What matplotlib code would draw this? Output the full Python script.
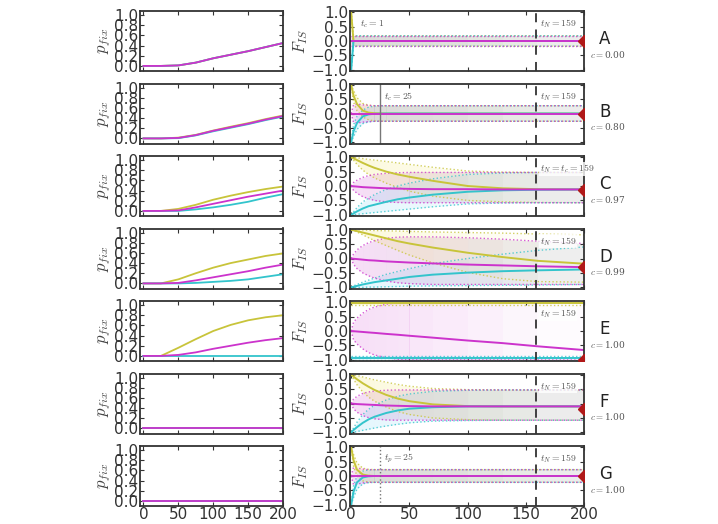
import numpy as np
import matplotlib
matplotlib.use('Agg')
import matplotlib.pyplot as plt

plt.rcParams['mathtext.fontset'] = 'cm'
plt.rcParams['xtick.direction'] = 'in'
plt.rcParams['ytick.direction'] = 'in'
plt.rcParams['xtick.top'] = True
plt.rcParams['ytick.right'] = True
plt.rcParams['axes.edgecolor'] = '#333333'
plt.rcParams['axes.linewidth'] = 1.3
plt.rcParams['xtick.color'] = '#333333'
plt.rcParams['ytick.color'] = '#333333'

YEL = '#c8c43a'
MAG = '#cc33cc'
CYA = '#33c4cc'

letters = ['A', 'B', 'C', 'D', 'E', 'F', 'G']
c_vals = ['0.00', '0.80', '0.97', '0.99', '1.00', '1.00', '1.00']

# left column: fixation probability
t_fix = [0, 25, 50, 75, 100, 125, 150, 175, 200]
fix_a_yel = [0, 0, 0.01, 0.065, 0.15, 0.22, 0.29, 0.37, 0.45]
fix_a_mag = [0, 0, 0.01, 0.065, 0.15, 0.22, 0.29, 0.37, 0.45]
fix_a_cya = [0, 0, 0.01, 0.065, 0.15, 0.22, 0.29, 0.37, 0.45]
fix_b_yel = [0, 0, 0.015, 0.07, 0.155, 0.23, 0.30, 0.38, 0.45]
fix_b_mag = [0, 0, 0.01, 0.065, 0.15, 0.22, 0.29, 0.37, 0.44]
fix_b_cya = [0, 0, 0.005, 0.06, 0.14, 0.21, 0.28, 0.36, 0.43]
fix_c_yel = [0, 0, 0.04, 0.12, 0.22, 0.30, 0.37, 0.43, 0.48]
fix_c_mag = [0, 0, 0.01, 0.07, 0.14, 0.21, 0.28, 0.34, 0.40]
fix_c_cya = [0, 0, 0, 0.03, 0.07, 0.12, 0.18, 0.26, 0.33]
fix_d_yel = [0, 0, 0.08, 0.20, 0.31, 0.40, 0.47, 0.54, 0.59]
fix_d_mag = [0, 0, 0.01, 0.06, 0.12, 0.18, 0.24, 0.31, 0.37]
fix_d_cya = [0, 0, 0, 0.01, 0.03, 0.05, 0.08, 0.13, 0.18]
fix_e_yel = [0, 0, 0.16, 0.33, 0.49, 0.61, 0.70, 0.76, 0.80]
fix_e_mag = [0, 0, 0.02, 0.07, 0.14, 0.20, 0.26, 0.31, 0.35]
fix_e_cya = [0, 0, 0, 0, 0, 0, 0, 0, 0]
fix_zero = [0, 0, 0, 0, 0, 0, 0, 0, 0]

# right column: F_IS trajectories and their spread
t_fis = [0, 2, 5, 10, 15, 20, 30, 40, 50, 70, 100, 130, 160, 200]

a_yel = [1, 0, 0, 0, 0, 0, 0, 0, 0, 0, 0, 0, 0, 0]
a_cya = [-1, 0, 0, 0, 0, 0, 0, 0, 0, 0, 0, 0, 0, 0]
a_mag = [0, 0, 0, 0, 0, 0, 0, 0, 0, 0, 0, 0, 0, 0]
a_hi = [0.18, 0.18, 0.18, 0.18, 0.18, 0.18, 0.18, 0.18, 0.18, 0.18, 0.18, 0.18, 0.18, 0.18]
a_lo = [-0.18, -0.18, -0.18, -0.18, -0.18, -0.18, -0.18, -0.18, -0.18, -0.18, -0.18, -0.18, -0.18, -0.18]
a_yhi = [1, 0.18, 0.18, 0.18, 0.18, 0.18, 0.18, 0.18, 0.18, 0.18, 0.18, 0.18, 0.18, 0.18]
a_ylo = [1, -0.18, -0.18, -0.18, -0.18, -0.18, -0.18, -0.18, -0.18, -0.18, -0.18, -0.18, -0.18, -0.18]
a_chi = [-1, 0.18, 0.18, 0.18, 0.18, 0.18, 0.18, 0.18, 0.18, 0.18, 0.18, 0.18, 0.18, 0.18]
a_clo = [-1, -0.18, -0.18, -0.18, -0.18, -0.18, -0.18, -0.18, -0.18, -0.18, -0.18, -0.18, -0.18, -0.18]

b_yel = [1, 0.62, 0.33, 0.10, 0.03, 0.01, 0, 0, 0, 0, 0, 0, 0, 0]
b_cya = [-1, -0.62, -0.33, -0.10, -0.03, -0.01, 0, 0, 0, 0, 0, 0, 0, 0]
b_mag = [0, 0, 0, 0, 0, 0, 0, 0, 0, 0, 0, 0, 0, 0]
b_hi = [0, 0.30, 0.33, 0.30, 0.28, 0.27, 0.27, 0.27, 0.27, 0.27, 0.27, 0.27, 0.27, 0.27]
b_lo = [0, -0.30, -0.33, -0.30, -0.28, -0.27, -0.27, -0.27, -0.27, -0.27, -0.27, -0.27, -0.27, -0.27]
b_yhi = [1, 0.80, 0.55, 0.35, 0.29, 0.27, 0.27, 0.27, 0.27, 0.27, 0.27, 0.27, 0.27, 0.27]
b_ylo = [1, 0.40, 0.10, -0.12, -0.22, -0.26, -0.27, -0.27, -0.27, -0.27, -0.27, -0.27, -0.27, -0.27]
b_chi = [-1, -0.40, -0.10, 0.12, 0.22, 0.26, 0.27, 0.27, 0.27, 0.27, 0.27, 0.27, 0.27, 0.27]
b_clo = [-1, -0.80, -0.55, -0.35, -0.29, -0.27, -0.27, -0.27, -0.27, -0.27, -0.27, -0.27, -0.27, -0.27]

c_yel = [1, 0.96, 0.90, 0.80, 0.71, 0.63, 0.50, 0.40, 0.32, 0.18, 0.0, -0.08, -0.11, -0.12]
c_cya = [-1, -0.95, -0.88, -0.78, -0.70, -0.65, -0.55, -0.46, -0.40, -0.30, -0.20, -0.15, -0.13, -0.12]
c_mag = [0, -0.01, -0.02, -0.04, -0.05, -0.06, -0.08, -0.09, -0.10, -0.11, -0.11, -0.12, -0.12, -0.12]
c_hi = [0, 0.12, 0.20, 0.30, 0.36, 0.40, 0.44, 0.46, 0.47, 0.47, 0.47, 0.47, 0.47, 0.47]
c_lo = [0, -0.15, -0.25, -0.37, -0.44, -0.50, -0.55, -0.57, -0.58, -0.58, -0.58, -0.58, -0.58, -0.58]
c_yhi = [1, 1, 0.98, 0.95, 0.92, 0.90, 0.85, 0.80, 0.75, 0.65, 0.52, 0.48, 0.47, 0.47]
c_ylo = [1, 0.90, 0.75, 0.55, 0.40, 0.28, 0.10, -0.05, -0.18, -0.35, -0.50, -0.55, -0.57, -0.58]
c_chi = [-1, -0.90, -0.75, -0.55, -0.42, -0.30, -0.12, 0.0, 0.10, 0.25, 0.40, 0.45, 0.47, 0.47]
c_clo = [-1, -1, -0.98, -0.96, -0.94, -0.92, -0.88, -0.84, -0.80, -0.72, -0.62, -0.59, -0.58, -0.58]

d_yel = [1, 0.98, 0.95, 0.90, 0.85, 0.80, 0.70, 0.60, 0.52, 0.38, 0.20, 0.05, -0.08, -0.18]
d_cya = [-1, -0.98, -0.95, -0.90, -0.86, -0.82, -0.76, -0.70, -0.64, -0.56, -0.49, -0.44, -0.41, -0.38]
d_mag = [0, -0.01, -0.02, -0.04, -0.06, -0.07, -0.10, -0.12, -0.14, -0.17, -0.21, -0.24, -0.27, -0.30]
d_hi = [0, 0.15, 0.30, 0.45, 0.55, 0.62, 0.70, 0.74, 0.75, 0.75, 0.72, 0.67, 0.60, 0.52]
d_lo = [0, -0.20, -0.35, -0.50, -0.60, -0.68, -0.78, -0.84, -0.87, -0.90, -0.90, -0.90, -0.90, -0.90]
d_yhi = [1, 1, 1, 0.99, 0.98, 0.97, 0.96, 0.95, 0.94, 0.92, 0.90, 0.88, 0.85, 0.82]
d_ylo = [1, 0.97, 0.92, 0.82, 0.72, 0.62, 0.45, 0.28, 0.12, -0.15, -0.48, -0.70, -0.80, -0.82]
d_chi = [-1, -0.95, -0.90, -0.82, -0.75, -0.68, -0.55, -0.45, -0.35, -0.18, 0.0, 0.15, 0.28, 0.40]
d_clo = [-1, -1, -1, -1, -0.99, -0.99, -0.98, -0.97, -0.96, -0.95, -0.94, -0.93, -0.92, -0.90]

e_yel = [0.96, 0.96, 0.96, 0.96, 0.96, 0.96, 0.96, 0.96, 0.96, 0.96, 0.96, 0.96, 0.96, 0.96]
e_cya = [-0.95, -0.95, -0.95, -0.95, -0.95, -0.95, -0.95, -0.95, -0.95, -0.95, -0.95, -0.95, -0.95, -0.95]
e_mag = [0, -0.007, -0.017, -0.033, -0.05, -0.065, -0.10, -0.13, -0.165, -0.23, -0.33, -0.42, -0.53, -0.66]
e_hi = [0, 0.30, 0.45, 0.62, 0.75, 0.83, 0.93, 0.98, 1.0, 1.0, 1.0, 1.0, 1.0, 1.0]
e_lo = [0, -0.30, -0.45, -0.62, -0.75, -0.83, -0.93, -0.98, -1.0, -1.0, -1.0, -1.0, -1.0, -1.0]
e_yhi = [1, 1, 1, 1, 1, 1, 1, 1, 1, 1, 1, 1, 1, 1]
e_ylo = [0.9, 0.9, 0.9, 0.9, 0.9, 0.9, 0.9, 0.9, 0.9, 0.9, 0.9, 0.9, 0.9, 0.9]
e_chi = [-0.88, -0.88, -0.88, -0.88, -0.88, -0.88, -0.88, -0.88, -0.88, -0.88, -0.88, -0.88, -0.88, -0.88]
e_clo = [-1, -1, -1, -1, -1, -1, -1, -1, -1, -1, -1, -1, -1, -1]

f_yel = [1, 0.93, 0.84, 0.70, 0.58, 0.47, 0.30, 0.17, 0.08, -0.03, -0.09, -0.10, -0.10, -0.10]
f_cya = [-1, -0.92, -0.82, -0.67, -0.55, -0.46, -0.33, -0.24, -0.18, -0.13, -0.10, -0.10, -0.10, -0.10]
f_mag = [0, -0.01, -0.02, -0.03, -0.04, -0.05, -0.07, -0.08, -0.09, -0.10, -0.10, -0.10, -0.10, -0.10]
f_hi = [0, 0.15, 0.25, 0.35, 0.40, 0.43, 0.46, 0.47, 0.47, 0.47, 0.47, 0.47, 0.47, 0.47]
f_lo = [0, -0.18, -0.30, -0.42, -0.49, -0.53, -0.57, -0.58, -0.58, -0.58, -0.58, -0.58, -0.58, -0.58]
f_yhi = [1, 1, 0.97, 0.92, 0.87, 0.82, 0.74, 0.66, 0.60, 0.52, 0.48, 0.47, 0.47, 0.47]
f_ylo = [1, 0.85, 0.65, 0.40, 0.22, 0.08, -0.12, -0.28, -0.38, -0.50, -0.56, -0.58, -0.58, -0.58]
f_chi = [-1, -0.85, -0.65, -0.38, -0.20, -0.06, 0.12, 0.25, 0.33, 0.42, 0.46, 0.47, 0.47, 0.47]
f_clo = [-1, -1, -0.97, -0.93, -0.89, -0.85, -0.78, -0.72, -0.67, -0.61, -0.59, -0.58, -0.58, -0.58]

g_yel = [1, 0.55, 0.22, 0.05, 0.01, 0, 0, 0, 0, 0, 0, 0, 0, 0]
g_cya = [-1, -0.55, -0.22, -0.05, -0.01, 0, 0, 0, 0, 0, 0, 0, 0, 0]
g_mag = [0, 0, 0, 0, 0, 0, 0, 0, 0, 0, 0, 0, 0, 0]
g_hi = [0, 0.30, 0.28, 0.24, 0.22, 0.22, 0.22, 0.22, 0.22, 0.22, 0.22, 0.22, 0.22, 0.22]
g_lo = [0, -0.30, -0.28, -0.24, -0.22, -0.22, -0.22, -0.22, -0.22, -0.22, -0.22, -0.22, -0.22, -0.22]
g_yhi = [1, 0.75, 0.45, 0.27, 0.23, 0.22, 0.22, 0.22, 0.22, 0.22, 0.22, 0.22, 0.22, 0.22]
g_ylo = [1, 0.35, 0.0, -0.17, -0.21, -0.22, -0.22, -0.22, -0.22, -0.22, -0.22, -0.22, -0.22, -0.22]
g_chi = [-1, -0.35, 0.0, 0.17, 0.21, 0.22, 0.22, 0.22, 0.22, 0.22, 0.22, 0.22, 0.22, 0.22]
g_clo = [-1, -0.75, -0.45, -0.27, -0.23, -0.22, -0.22, -0.22, -0.22, -0.22, -0.22, -0.22, -0.22, -0.22]

final_fis = [0, 0, -0.13, -0.30, -1.0, -0.20, 0]
t_N = 159
t_c_b = 25
t_p_g = 25

fix_rows = [
    (fix_a_yel, fix_a_cya, fix_a_mag),
    (fix_b_yel, fix_b_cya, fix_b_mag),
    (fix_c_yel, fix_c_cya, fix_c_mag),
    (fix_d_yel, fix_d_cya, fix_d_mag),
    (fix_e_yel, fix_e_cya, fix_e_mag),
    (fix_zero, fix_zero, fix_zero),
    (fix_zero, fix_zero, fix_zero),
]
fis_rows = [
    (a_yel, a_cya, a_mag, a_hi, a_lo, a_yhi, a_ylo, a_chi, a_clo),
    (b_yel, b_cya, b_mag, b_hi, b_lo, b_yhi, b_ylo, b_chi, b_clo),
    (c_yel, c_cya, c_mag, c_hi, c_lo, c_yhi, c_ylo, c_chi, c_clo),
    (d_yel, d_cya, d_mag, d_hi, d_lo, d_yhi, d_ylo, d_chi, d_clo),
    (e_yel, e_cya, e_mag, e_hi, e_lo, e_yhi, e_ylo, e_chi, e_clo),
    (f_yel, f_cya, f_mag, f_hi, f_lo, f_yhi, f_ylo, f_chi, f_clo),
    (g_yel, g_cya, g_mag, g_hi, g_lo, g_yhi, g_ylo, g_chi, g_clo),
]
tN_text = [r'$t_N=159$'] * 7
tN_text[2] = r'$t_N=t_c=159$'
# how grey the settled band gets in each row (E stays pink)
gray_alpha = [0.16, 0.16, 0.16, 0.14, 0.0, 0.16, 0.16]
pink_fade = [110, 110, 110, 140, 180, 110, 110]


def fade_fill(ax, t, lo, hi, color, amax, fade, rising=False):
    # shade band segment by segment, fading (or growing) with time
    for j in range(len(t) - 1):
        frac = min(1.0, t[j] / fade)
        a = amax * (frac if rising else (1 - frac))
        if a <= 0:
            continue
        ax.fill_between(t[j:j + 2], lo[j:j + 2], hi[j:j + 2], color=color, alpha=a, lw=0)


fig = plt.figure(figsize=(7.18, 5.24), dpi=100)
W, H = 718.0, 524.0
tf = np.array(t_fis)

for i in range(7):
    top = 11 + 72.5 * i
    bottom = 1 - (top + 60) / H

    # p_fix panel
    ax1 = fig.add_axes([140 / W, bottom, 143 / W, 60 / H])
    yel, cya, mag = fix_rows[i]
    ax1.plot(t_fix, yel, color=YEL, lw=1.3)
    ax1.plot(t_fix, cya, color=CYA, lw=1.3)
    ax1.plot(t_fix, mag, color=MAG, lw=1.3)
    ax1.set_xlim(-5, 200)
    ax1.set_ylim(-0.1, 1.08)
    ax1.set_yticks([0, 0.2, 0.4, 0.6, 0.8, 1.0])
    ax1.set_xticks([0, 50, 100, 150, 200])
    ax1.set_ylabel(r'$p_{fix}$', fontsize=12, color='#444444', labelpad=1)
    ax1.tick_params(labelsize=11, length=3, pad=1)
    if i < 6:
        ax1.set_xticklabels([])

    # F_IS panel
    ax2 = fig.add_axes([350 / W, bottom, 234 / W, 60 / H])
    yel, cya, mag, hi, lo, yhi, ylo, chi, clo = fis_rows[i]
    if gray_alpha[i] > 0:
        fade_fill(ax2, t_fis, np.array(lo), np.array(hi), '#8c8c8c', gray_alpha[i], 90, rising=True)
    fade_fill(ax2, t_fis, np.array(lo), np.array(hi), MAG, 0.16, pink_fade[i])
    fade_fill(ax2, t_fis, np.array(ylo), np.array(yhi), '#f2e040', 0.18, 160)
    fade_fill(ax2, t_fis, np.array(clo), np.array(chi), '#3cc0f0', 0.14, 160)
    for arr, col in [(yhi, YEL), (ylo, YEL), (chi, CYA), (clo, CYA), (hi, MAG), (lo, MAG)]:
        ax2.plot(tf, arr, ls=':', color=col, lw=1.0, alpha=0.8)
    ax2.plot(tf, yel, color=YEL, lw=1.4)
    ax2.plot(tf, cya, color=CYA, lw=1.4)
    ax2.plot(tf, mag, color=MAG, lw=1.4)
    ax2.plot([200], [final_fis[i]], marker='D', color='#b01818', ms=6, clip_on=True, zorder=5)
    ax2.axvline(t_N, color='#333333', ls=(0, (5, 4)), lw=1.3)
    ax2.text(t_N + 3, 0.6, tN_text[i], fontsize=7, color='#555555', va='center',
             bbox=dict(facecolor='white', edgecolor='none', pad=0.5, alpha=0.8))
    if i == 0:
        ax2.text(8, 0.6, r'$t_c=1$', fontsize=7, color='#555555', va='center')
    if i == 1:
        ax2.axvline(t_c_b, color='#777777', lw=1.0)
        ax2.text(t_c_b + 3, 0.6, r'$t_c=25$', fontsize=7, color='#555555', va='center')
    if i == 6:
        ax2.axvline(t_p_g, color='#777777', ls=':', lw=1.0)
        ax2.text(t_p_g + 3, 0.6, r'$t_p=25$', fontsize=7, color='#555555', va='center')
    ax2.set_xlim(-1, 200)
    ax2.set_ylim(-1.04, 1.04)
    ax2.set_yticks([-1.0, -0.5, 0.0, 0.5, 1.0])
    ax2.set_xticks([0, 50, 100, 150, 200])
    ax2.set_ylabel(r'$F_{IS}$', fontsize=12, color='#444444', labelpad=1)
    ax2.tick_params(labelsize=11, length=3, pad=1)
    if i < 6:
        ax2.set_xticklabels([])
    ax2.text(1.065, 0.53, letters[i], transform=ax2.transAxes, fontsize=12,
             color='#222222', va='center')
    ax2.text(1.025, 0.28, r'$c=$' + c_vals[i], transform=ax2.transAxes, fontsize=6.5,
             color='#555555', va='center', family='serif')

fig.savefig('out.png', dpi=100)
